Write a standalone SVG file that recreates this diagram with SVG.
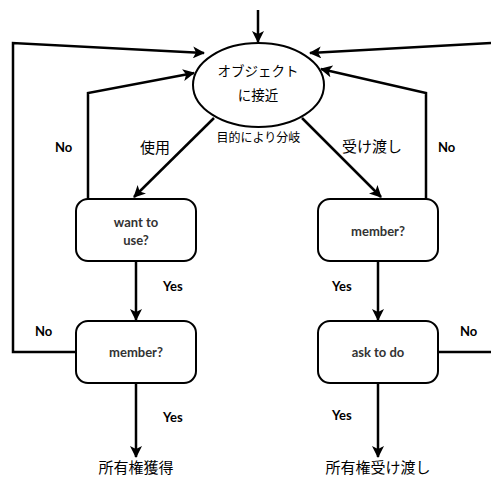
<svg xmlns="http://www.w3.org/2000/svg" width="491" height="486" viewBox="0 0 491 486">
<style>
.ln{fill:none;stroke:#000;stroke-width:2.5;stroke-linejoin:miter}
.arr{marker-end:url(#ah)}
.box{fill:#fff;stroke:#000;stroke-width:2}
.in{font-family:Lato,"Open Sans",sans-serif;font-size:13px;font-weight:bold;fill:#333;text-anchor:middle}
.lb{font-family:Lato,"Open Sans",sans-serif;font-size:13px;font-weight:bold;fill:#000}
.jp{font-family:"Noto Sans CJK JP",sans-serif;fill:#000}
</style>
<defs>
<marker id="ah" markerWidth="12" markerHeight="12" refX="11" refY="6" orient="auto" markerUnits="userSpaceOnUse">
<path d="M0,0 L12,6 L0,12 L3,6 z" fill="#000"/>
</marker>
</defs>
<rect width="491" height="486" fill="#fff"/>
<g id="connectors">
<path class="ln arr" d="M258,10 L258,42"/>
<path class="ln arr" d="M76,352 L13,352 L13,43 L204,53"/>
<path class="ln arr" d="M88,199 L88,93 L194,73"/>
<path class="ln arr" d="M491,43 L310,53"/>
<path class="ln arr" d="M426,199 L426,93 L321,69"/>
<path class="ln arr" d="M214,118 L134,197"/>
<path class="ln arr" d="M302,118 L381,197"/>
<path class="ln arr" d="M136,261 L136,320"/>
<path class="ln arr" d="M378,261 L378,320"/>
<path class="ln" d="M438,352 L491,352"/>
<path class="ln arr" d="M136,383 L136,457"/>
<path class="ln arr" d="M378,383 L378,457"/>
</g>
<g id="approach">
<ellipse cx="258.5" cy="85" rx="65.5" ry="42" class="box"/>
<text class="jp" x="258" y="76" font-size="13.5" text-anchor="middle" fill="#333">オブジェクト</text>
<text class="jp" x="258" y="100" font-size="13.5" text-anchor="middle" fill="#333">に接近</text>
</g>
<g id="want">
<rect x="76" y="199" width="120" height="62" rx="12" class="box"/>
<text class="in" x="136" y="227">want to</text>
<text class="in" x="136" y="245">use?</text>
</g>
<g id="member1">
<rect x="318" y="199" width="120" height="62" rx="12" class="box"/>
<text class="in" x="378" y="236">member?</text>
</g>
<g id="member2">
<rect x="76" y="321" width="120" height="62" rx="12" class="box"/>
<text class="in" x="136" y="357">member?</text>
</g>
<g id="ask">
<rect x="318" y="321" width="120" height="62" rx="12" class="box"/>
<text class="in" x="378" y="357">ask to do</text>
</g>
<g id="labels">
<text class="lb" x="55" y="152">No</text>
<text class="lb" x="438" y="152">No</text>
<text class="lb" x="35" y="336">No</text>
<text class="lb" x="460" y="336">No</text>
<text class="lb" x="163" y="291">Yes</text>
<text class="lb" x="332" y="291">Yes</text>
<text class="lb" x="163" y="422">Yes</text>
<text class="lb" x="332" y="420">Yes</text>
<text class="jp" x="155" y="153" font-size="15" text-anchor="middle">使用</text>
<text class="jp" x="372" y="152" font-size="15" text-anchor="middle">受け渡し</text>
<text class="jp" x="258.5" y="142" font-size="12" text-anchor="middle">目的により分岐</text>
</g>
<g id="result1"><text class="jp" x="136" y="473" font-size="15" text-anchor="middle">所有権獲得</text></g>
<g id="result2"><text class="jp" x="378" y="473" font-size="15" text-anchor="middle">所有権受け渡し</text></g>
</svg>
